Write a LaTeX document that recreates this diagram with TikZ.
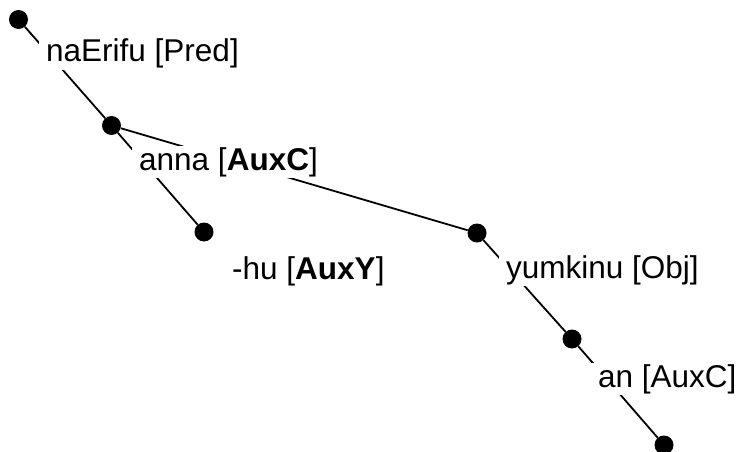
\documentclass[tikz,border=0pt]{standalone}
\usepackage{fontspec}
\setmainfont{Liberation Sans}
\begin{document}
\begin{tikzpicture}[x=1pt,y=-1pt,
    dot/.style={circle,fill=black,inner sep=0pt,minimum size=19pt},
    lbl/.style={fill=white,inner xsep=7pt,inner ysep=1pt,anchor=base west,font=\fontsize{31.5}{37}\selectfont},
    edge/.style={line width=1.8pt}]
\useasboundingbox (0,0) rectangle (739,452);

\node[dot] (d1) at (18.5,19.5){};
\node[dot] (d2) at (111.5,125.5){};
\node[dot] (d3) at (204,232){};
\node[dot] (d4) at (477,233){};
\node[dot] (d5) at (572,339){};
\node[dot] (d6) at (664,445){};

\draw[edge] (d1)--(d2);
\draw[edge] (d2)--(d3);
\draw[edge] (d2)--(d4);
\draw[edge] (d4)--(d5);
\draw[edge] (d5)--(d6);

\node[lbl] (l1) at (39,62){naErifu [Pred]};
\node[lbl] (l2) at (132,170){anna [\textbf{AuxC}]};
\node[lbl] (l3) at (225,279){-hu [\textbf{AuxY}]};
\node[lbl] (l4) at (499,278){yumkinu [Obj]};
\node[lbl] (l5) at (591,387){an [AuxC]};

\end{tikzpicture}
\end{document}
